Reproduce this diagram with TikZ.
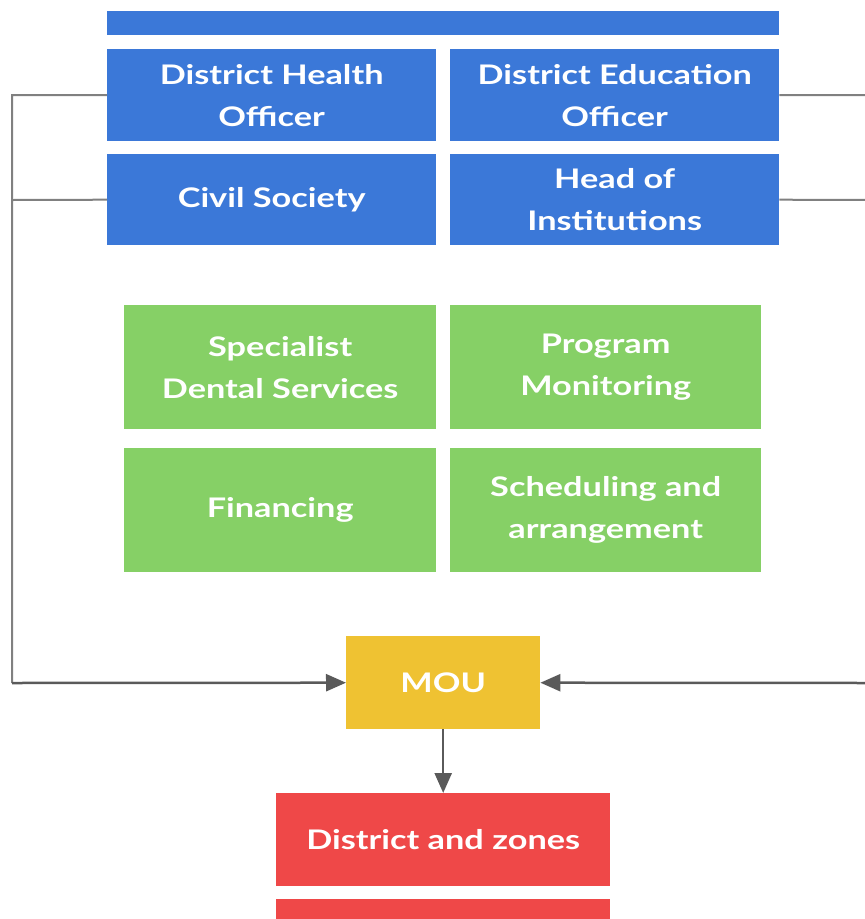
\documentclass[tikz,border=0pt]{standalone}
\usepackage{fontspec}
\setmainfont[FakeStretch=1.27]{Lato}
\usetikzlibrary{arrows.meta}
\definecolor{cblue}{HTML}{3B78D8}
\definecolor{cgreen}{HTML}{86D066}
\definecolor{cyellow}{HTML}{EFC232}
\definecolor{cred}{HTML}{EF4848}
\definecolor{cline}{HTML}{808080}
\definecolor{carrow}{HTML}{5A5A5A}
\tikzset{
  box/.style={rectangle, inner sep=0pt, anchor=north west, text=white, align=center,
    font=\fontsize{27}{42}\selectfont\bfseries},
  bluebox/.style={box, fill=cblue},
  greenbox/.style={box, fill=cgreen},
  yellowbox/.style={box, fill=cyellow},
  redbox/.style={box, fill=cred},
  conn/.style={draw=cline, line width=2pt},
  arr/.style={draw=carrow, line width=2.5pt, -{Triangle[length=20pt,width=17pt]}},
}
\begin{document}
\begin{tikzpicture}[x=1pt,y=-1pt]
\useasboundingbox (0,0) rectangle (865,919);
\clip (0,0) rectangle (865,919);
% top bar
\node[bluebox, minimum width=672pt, minimum height=24pt] (bar) at (107,11) {};
% blue boxes
\node[bluebox, minimum width=329pt, minimum height=92pt] (dho) at (107,49) {District Health\\Officer};
\node[bluebox, minimum width=329pt, minimum height=92pt] (deo) at (450,49) {District Education\\Officer};
\node[bluebox, minimum width=329pt, minimum height=91pt] (cs) at (107,154) {Civil Society};
\node[bluebox, minimum width=329pt, minimum height=91pt] (hoi) at (450,154) {Head of\\Institutions};
% green boxes
\node[greenbox, minimum width=312pt, minimum height=124pt] (sds) at (124,305) {Specialist\\Dental Services};
\node[greenbox, minimum width=311pt, minimum height=124pt] (pm) at (450,305) {Program\\Monitoring};
\node[greenbox, minimum width=312pt, minimum height=124pt] (fin) at (124,448) {Financing};
\node[greenbox, minimum width=311pt, minimum height=124pt] (sch) at (450,448) {Scheduling and\\arrangement};
% MOU
\node[yellowbox, minimum width=194pt, minimum height=93pt] (mou) at (346,636) {MOU};
% red boxes
\node[redbox, minimum width=334pt, minimum height=93pt] (dz) at (276,793) {District and zones};
\node[redbox, minimum width=334pt, minimum height=60pt] (red2) at (276,899) {};
% connector coordinates
\coordinate (L1) at (12,95);
\coordinate (L2) at (12,200);
\coordinate (L3) at (12,683);
\coordinate (R1) at (867,95);
\coordinate (R2) at (867,200);
\coordinate (R3) at (867,683);
% connectors
\draw[conn] (dho.west) -- (L1) -- (L3);
\draw[conn] (cs.west) -- (L2);
\draw[conn] (deo.east) -- (R1);
\draw[conn] (hoi.east) -- (R2);
\draw[arr] (L3) -- (mou.west);
\draw[arr] (R3) -- (mou.east);
\draw[arr] (mou.south) -- (dz.north);
\end{tikzpicture}
\end{document}
